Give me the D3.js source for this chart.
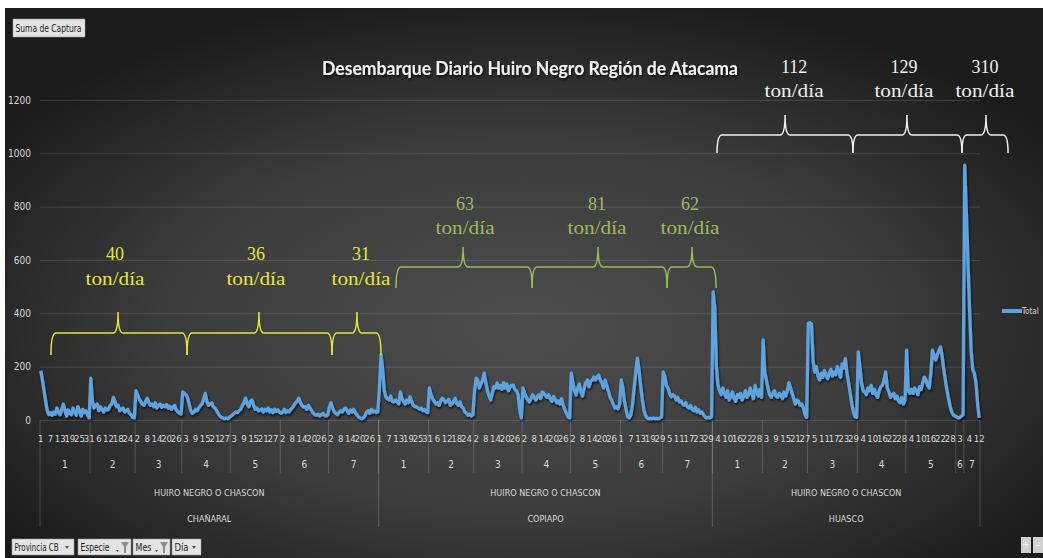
<!DOCTYPE html>
<html>
<head>
<meta charset="utf-8">
<script src="https://cdn.jsdelivr.net/npm/d3@7"></script>
<style>
html, body { margin: 0; padding: 0; background: #fff; overflow: hidden; }
svg { display: block; }
</style>
</head>
<body>
<svg id="chart" width="1043" height="558"></svg>
<script>
// ---- data ----
const provinces = ['CHAÑARAL', 'COPIAPO', 'HUASCO'];
const species = 'HUIRO NEGRO O CHASCON';
const months = [1, 2, 3, 4, 5, 6, 7];
const yTicks = [0, 200, 400, 600, 800, 1000, 1200];

// days that have landings, per month
const chanaralDays = [seq(1, 31), seq(1, 28), seq(1, 29), seq(1, 30), seq(1, 31), seq(1, 30), seq(1, 31)];
const copiapoDays = [seq(1, 31), seq(1, 28), seq(1, 30), seq(1, 30), seq(1, 31),
    seq(1, 19).concat([20, 21, 22, 26, 28, 29, 30]), seq(1, 31)];
const huascoDays = [seq(1, 31), seq(1, 28), seq(1, 31), seq(1, 30), seq(1, 31),
    [1, 2, 3, 4, 5], [1, 2, 3, 4, 5, 6, 7, 9, 10, 12]];

// daily catch (ton), per month
const chanaral = [
    [185,150,110,70,35,20,28,18,30,22,45,28,20,40,60,35,15,38,25,20,45,30,18,50,35,15,40,28,35,18,8],
    [157,70,45,55,60,35,50,40,30,45,38,40,55,60,85,70,50,55,35,40,45,30,35,40,25,20,10,8],
    [110,95,80,68,60,55,70,82,65,55,60,50,65,45,55,60,48,55,50,58,45,52,40,48,55,38,30,25,22],
    [105,100,95,85,60,35,25,30,40,35,45,55,60,80,100,70,55,60,65,50,45,35,25,15,10,8,5,8,5,10],
    [15,20,25,30,28,35,40,55,65,82,60,50,70,75,55,40,45,35,38,42,30,40,35,45,30,38,28,40,32,38,30],
    [25,30,40,28,35,30,40,45,55,65,70,82,65,55,48,50,40,55,45,35,25,20,18,22,15,20,25,18,15,20],
    [50,65,45,30,25,20,28,35,30,40,45,35,25,38,30,40,28,20,12,8,5,8,15,30,35,25,40,30,35,28,30]
];
const copiapo = [
    [120,244,190,110,87,80,75,90,70,68,75,68,60,105,80,70,60,75,65,87,70,55,50,50,45,40,45,35,40,30,28],
    [120,95,80,70,60,65,55,72,82,75,65,70,78,55,60,70,82,62,55,68,50,45,30,25,18,22,15,20],
    [110,157,150,120,135,150,176,140,110,90,75,100,125,120,139,120,130,115,140,120,135,110,125,130,131,115,110,95,40,8],
    [120,100,87,75,68,80,95,85,75,88,95,80,105,100,92,85,95,80,70,88,78,65,72,60,80,55,40,25,12,8],
    [176,140,110,94,120,135,105,90,120,140,150,125,145,150,161,150,160,169,150,140,120,150,130,110,87,75,60,45,50,42,60],
    [150,120,70,40,12,8,20,60,120,180,232,190,130,80,40,18,8,5,6,5,8,5,6,5,8,12],
    [180,165,130,120,100,87,95,90,75,85,68,72,60,55,65,50,45,55,40,35,48,30,38,25,30,20,12,8,10,8,12]
];
const huasco = [
    [480,420,200,130,110,95,120,100,85,110,75,90,105,80,70,95,85,100,75,90,110,85,95,120,100,80,130,105,90,115,85],
    [300,180,150,120,95,85,100,110,90,85,100,95,80,105,90,110,140,120,100,80,60,75,70,55,60,45,20,10],
    [362,365,360,220,180,200,165,150,175,160,185,170,155,175,190,165,180,170,200,185,160,210,195,230,175,140,100,60,30,12,10],
    [255,200,140,110,105,95,120,110,130,100,115,95,85,110,125,130,150,180,120,105,85,95,100,80,90,70,65,85,60,75],
    [262,112,100,115,100,120,110,95,125,115,140,161,150,130,120,175,262,240,225,245,260,274,240,190,150,112,80,50,30,19,15],
    [12,8,10,15,20],
    [956,780,600,420,260,190,175,140,60,8]
];

// average landings written over the chart (ton/día)
const rates = [40, 36, 31, 63, 81, 62, 112, 129, 310];
// brace spans in category units: [start, tip, end]
const braceSpans = [
    [6.8, 48.4, 91.2], [91.2, 135.8, 181.1], [181.1, 196.6, 211.5],
    [220.8, 262.4, 305.2], [305.2, 346.1, 388.9], [388.9, 404.4, 419.3],
    [419.9, 462.1, 504.2], [504.2, 537.7, 571.8], [571.8, 586.7, 600.4]
];

function seq(a, b) {
    return d3.range(a, b + 1);
}

// ---- layout ----
const plotLeft = 40, plotRight = 980, plotTop = 100, plotBottom = 420;
const narrow = '"Liberation Sans Narrow", "Arial Narrow", "DejaVu Sans Condensed", sans-serif';
const serif = '"Liberation Serif", "Times New Roman", serif';
const axisColor = '#d9d9d9';
const lineColor = '#5ba3e0';

const dayLists = [chanaralDays, copiapoDays, huascoDays];
const valueLists = [chanaral, copiapo, huasco];

const rows = [], monthGroups = [], provGroups = [];
provinces.forEach((p, pi) => {
    const pStart = rows.length;
    dayLists[pi].forEach((days, mi) => {
        const mStart = rows.length;
        days.forEach((d, di) => rows.push({ prov: p, month: months[mi], day: d, value: valueLists[pi][mi][di] }));
        monthGroups.push({ label: months[mi], start: mStart, end: rows.length });
    });
    provGroups.push({ label: p, start: pStart, end: rows.length });
});

const x = d3.scaleBand().domain(d3.range(rows.length)).range([plotLeft, plotRight]);
const xc = i => x(i) + x.bandwidth() / 2;
const xe = i => plotLeft + i * x.step();
const y = d3.scaleLinear().domain([0, 1200]).range([plotBottom, plotTop]);

const svg = d3.select('#chart');
const defs = svg.append('defs');

const bg = defs.append('radialGradient').attr('id', 'bg')
    .attr('cx', '50%').attr('cy', '58%').attr('r', '62%');
bg.append('stop').attr('offset', '0%').attr('stop-color', '#4d4d4d');
bg.append('stop').attr('offset', '55%').attr('stop-color', '#3c3c3c');
bg.append('stop').attr('offset', '100%').attr('stop-color', '#1b1b1b');

const shadow = defs.append('filter').attr('id', 'shadow')
    .attr('x', '-5%').attr('y', '-5%').attr('width', '110%').attr('height', '120%');
shadow.append('feDropShadow').attr('dx', 1).attr('dy', 2).attr('stdDeviation', 1.2)
    .attr('flood-color', '#000').attr('flood-opacity', 0.7);

svg.append('rect').attr('width', 1043).attr('height', 558).attr('fill', '#fff');
svg.append('rect').attr('x', 5).attr('y', 8).attr('width', 1038).attr('height', 550).attr('fill', 'url(#bg)');

// ---- y axis + gridlines ----
const yAxis = svg.append('g')
    .attr('transform', `translate(${plotLeft},0)`)
    .call(d3.axisLeft(y).tickValues(yTicks).tickFormat(d3.format('d'))
        .tickSize(-(plotRight - plotLeft)).tickPadding(9));
yAxis.select('.domain').remove();
yAxis.selectAll('.tick line').attr('stroke', '#fff').attr('stroke-opacity', 0.13);
yAxis.selectAll('.tick text')
    .attr('fill', axisColor)
    .style('font-family', narrow)
    .style('font-size', '10px');

// ---- category axis ----
const cat = svg.append('g');

cat.selectAll('.day')
    .data(rows.filter((r, i) => i % 6 === 0))
    .join('text')
    .attr('x', (r) => xc(rows.indexOf(r)))
    .attr('y', 442)
    .attr('text-anchor', 'middle')
    .attr('fill', axisColor)
    .style('font-family', narrow)
    .style('font-size', '9.5px')
    .text(r => r.day);

cat.selectAll('.month-sep')
    .data(monthGroups.filter(g => g.start > 0))
    .join('line')
    .attr('x1', g => xe(g.start)).attr('x2', g => xe(g.start))
    .attr('y1', plotBottom).attr('y2', 473)
    .attr('stroke', '#fff').attr('stroke-opacity', 0.18);

cat.selectAll('.prov-sep')
    .data(provGroups.map(g => g.start).concat([rows.length]))
    .join('line')
    .attr('x1', d => xe(d)).attr('x2', d => xe(d))
    .attr('y1', plotBottom).attr('y2', 527)
    .attr('stroke', '#fff').attr('stroke-opacity', 0.18);

cat.selectAll('.month')
    .data(monthGroups)
    .join('text')
    .attr('x', g => (xe(g.start) + xe(g.end)) / 2)
    .attr('y', 468)
    .attr('text-anchor', 'middle')
    .attr('fill', axisColor)
    .style('font-family', narrow)
    .style('font-size', '10px')
    .text(g => g.label);

cat.selectAll('.species')
    .data(provGroups)
    .join('text')
    .attr('x', g => (xe(g.start) + xe(g.end)) / 2)
    .attr('y', 496)
    .attr('text-anchor', 'middle')
    .attr('fill', axisColor)
    .style('font-family', narrow)
    .style('font-size', '9px')
    .text(species);

cat.selectAll('.prov')
    .data(provGroups)
    .join('text')
    .attr('x', g => (xe(g.start) + xe(g.end)) / 2)
    .attr('y', 522)
    .attr('text-anchor', 'middle')
    .attr('fill', axisColor)
    .style('font-family', narrow)
    .style('font-size', '9px')
    .text(g => g.label);

// ---- series ----
const line = d3.line()
    .x((d, i) => xc(i))
    .y(d => y(d.value));

svg.append('path')
    .datum(rows)
    .attr('d', line)
    .attr('fill', 'none')
    .attr('stroke', lineColor)
    .attr('stroke-width', 3.3)
    .attr('stroke-linejoin', 'round')
    .attr('filter', 'url(#shadow)');

// ---- title ----
svg.append('text')
    .attr('x', 322)
    .attr('y', 75)
    .attr('textLength', 416)
    .attr('lengthAdjust', 'spacingAndGlyphs')
    .attr('fill', '#f2f2f2')
    .attr('filter', 'url(#shadow)')
    .style('font-family', 'Lato, "Open Sans", sans-serif')
    .style('font-weight', 700)
    .style('font-size', '18px')
    .text('Desembarque Diario Huiro Negro Región de Atacama');

// ---- braces + averages ----
const noteGroups = [
    { color: '#e6e63a', bottom: 355, mid: 333, top: 312, numY: 260, unitY: 285, dx: [-3, -3, 4] },
    { color: '#9bbb59', bottom: 288, mid: 267, top: 247, numY: 210, unitY: 234, dx: [2, -1, -2] },
    { color: '#f0f0f0', bottom: 153, mid: 135, top: 115, numY: 73, unitY: 97, dx: [9, -3, -1] }
];

function bracePath(x1, xt, x2, g) {
    const r = 5;
    return `M${x1},${g.bottom} Q${x1},${g.mid} ${x1 + r},${g.mid} L${xt - r},${g.mid}` +
        ` Q${xt},${g.mid} ${xt},${g.top} Q${xt},${g.mid} ${xt + r},${g.mid}` +
        ` L${x2 - r},${g.mid} Q${x2},${g.mid} ${x2},${g.bottom}`;
}

rates.forEach((rate, i) => {
    const g = noteGroups[Math.floor(i / 3)],
        span = braceSpans[i],
        cx = xe(span[1]) + g.dx[i % 3];

    svg.append('path')
        .attr('d', bracePath(xe(span[0]), xe(span[1]), xe(span[2]), g))
        .attr('fill', 'none')
        .attr('stroke', g.color)
        .attr('stroke-width', 1.5);

    svg.append('text')
        .attr('x', cx).attr('y', g.numY)
        .attr('text-anchor', 'middle')
        .attr('fill', g.color)
        .style('font-family', serif)
        .style('font-size', '18px')
        .text(rate);

    svg.append('text')
        .attr('x', cx).attr('y', g.unitY)
        .attr('text-anchor', 'middle')
        .attr('textLength', 59)
        .attr('lengthAdjust', 'spacingAndGlyphs')
        .attr('fill', g.color)
        .style('font-family', serif)
        .style('font-size', '18px')
        .text('ton/día');
});

// ---- legend ----
svg.append('line')
    .attr('x1', 1002).attr('x2', 1022).attr('y1', 311).attr('y2', 311)
    .attr('stroke', lineColor).attr('stroke-width', 4);
svg.append('text')
    .attr('x', 1022).attr('y', 314)
    .attr('fill', axisColor)
    .style('font-family', narrow)
    .style('font-size', '8px')
    .text('Total');

// ---- pivot buttons ----
function button(x0, y0, w, h, label, textW, funnel, arrow) {
    const b = svg.append('g').attr('transform', `translate(${x0},${y0})`);
    b.append('rect').attr('width', w).attr('height', h)
        .attr('fill', '#e4e4e4').attr('stroke', '#9a9a9a').attr('stroke-width', 0.6);
    b.append('text').attr('x', 2.5).attr('y', h / 2 + 3.5)
        .attr('textLength', textW)
        .attr('lengthAdjust', 'spacingAndGlyphs')
        .attr('fill', '#222')
        .style('font-family', narrow)
        .style('font-size', '10px')
        .text(label);
    if (arrow) {
        b.append('path').attr('d', `M${w - 9},${h / 2 - 1} l4,0 l-2,3 z`).attr('fill', '#555');
    }
    if (funnel) {
        b.append('path').attr('d', `M${w - 15},${h / 2 + 3} l3,0 l-1.5,2 z`).attr('fill', '#555');
        b.append('path').attr('d', `M${w - 10},${3} l8,0 l-3,5 l0,6 l-2,0 l0,-6 z`).attr('fill', '#8c8c8c');
    }
}

button(13, 19, 72, 18, 'Suma de Captura', 66, false, false);
button(12, 539, 62, 16, 'Provincia CB', 44, false, true);
button(78, 539, 53, 16, 'Especie', 29, true, false);
button(133, 539, 37, 16, 'Mes', 16, true, false);
button(172, 539, 29, 16, 'Día', 14, false, true);

const zoomBtns = svg.append('g').attr('transform', 'translate(1021,537)');
zoomBtns.append('rect').attr('width', 10).attr('height', 16).attr('fill', '#d0d0d0');
zoomBtns.append('rect').attr('x', 12).attr('width', 10).attr('height', 16).attr('fill', '#d0d0d0');
zoomBtns.append('text').attr('x', 5).attr('y', 12).attr('text-anchor', 'middle')
    .attr('fill', '#fff').style('font-size', '12px').text('+');
zoomBtns.append('text').attr('x', 17).attr('y', 12).attr('text-anchor', 'middle')
    .attr('fill', '#fff').style('font-size', '12px').text('−');
</script>
</body>
</html>
